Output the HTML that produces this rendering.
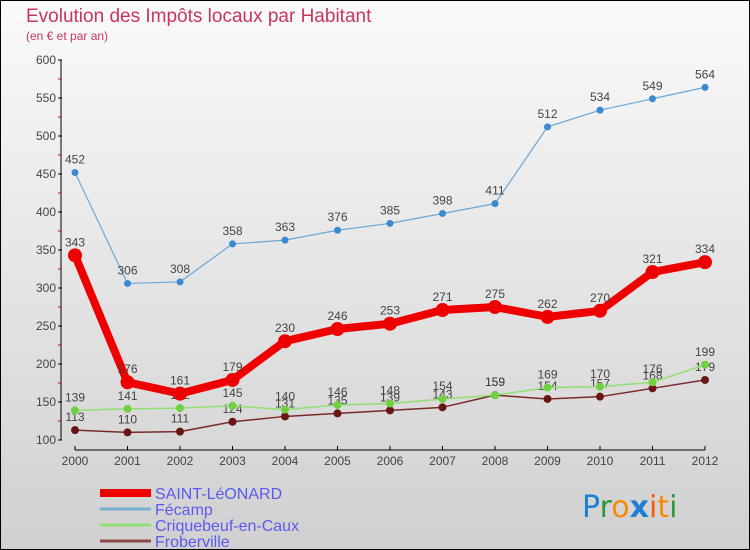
<!DOCTYPE html>
<html><head><meta charset="utf-8"><style>
body{margin:0;}
#c{width:750px;height:550px;position:relative;overflow:hidden;box-sizing:border-box;border:1px solid #000;background:linear-gradient(#fafafa,#d0d0d0);font-family:"Liberation Sans","DejaVu Sans",sans-serif;}
</style></head><body>
<div id="c">
<svg id="s" width="750" height="550" style="position:absolute;left:-1px;top:-1px">
<text x="26" y="22" font-size="19" fill="#c8365f">Evolution des Impôts locaux par Habitant</text>
<text x="26" y="40" font-size="12" fill="#c8365f">(en € et par an)</text>
<g font-size="30" font-family="'DejaVu Sans',sans-serif">
<text x="582" y="517"><tspan fill="#1b7fd8">P</tspan><tspan fill="#2a9a3a">r</tspan><tspan fill="#f58a0a">o</tspan><tspan fill="#1b7fd8" font-weight="bold">x</tspan><tspan fill="#f55a0a">i</tspan><tspan fill="#f58a0a">t</tspan><tspan fill="#2a9a3a">i</tspan></text>
</g>
</svg>
</div>
<script>
const years=[2000,2001,2002,2003,2004,2005,2006,2007,2008,2009,2010,2011,2012];
const saint=[343,176,161,179,230,246,253,271,275,262,270,321,334];
const fecamp=[452,306,308,358,363,376,385,398,411,512,534,549,564];
const criq=[139,141,142,145,140,146,148,154,159,169,170,176,199];
const frob=[113,110,111,124,131,135,139,143,159,154,157,168,179];
const yTicks=[100,150,200,250,300,350,400,450,500,550,600];
const NS='http://www.w3.org/2000/svg';
const s=document.getElementById('s');
const X=i=>75+i*52.5;
const Y=v=>440-(v-100)*0.76;
function el(t,a,p){const e=document.createElementNS(NS,t);for(const k in a)e.setAttribute(k,a[k]);(p||s).appendChild(e);return e;}
const ax=el('g',{});


el('line',{x1:61,y1:60,x2:61,y2:440,stroke:'#000','stroke-width':1},ax);
el('line',{x1:75,y1:450,x2:705,y2:450,stroke:'#000','stroke-width':1},ax);
yTicks.forEach((v,i)=>{
  el('line',{x1:58,y1:Y(v),x2:62,y2:Y(v),stroke:'#000'},ax);
  if(i<yTicks.length-1)el('line',{x1:58,y1:Y(v+25),x2:61,y2:Y(v+25),stroke:'#d00'},ax);
  const t=el('text',{x:56,y:Y(v)+4,'font-size':12,fill:'#444','text-anchor':'end'},ax);
  
  
  t.textContent=v;
});
years.forEach((y,i)=>{
  el('line',{x1:X(i),y1:446,x2:X(i),y2:450,stroke:'#000'},ax);
  const t=el('text',{x:X(i),y:465,'font-size':12,fill:'#444','text-anchor':'middle'},ax);
  
  
  t.textContent=y;
});
function series(vals,color,w,r,name,dotColor){
  const g=el('g',{});
  
  
  el('polyline',{points:vals.map((v,i)=>X(i)+','+Y(v)).join(' '),fill:'none',stroke:color,'stroke-width':w,'stroke-linejoin':'round'},g);
  vals.forEach((v,i)=>{
    const c=el('circle',{cx:X(i),cy:Y(v),r:r,fill:dotColor||color},g);
    
    
    const t=el('text',{x:X(i),y:Y(v)-9,'font-size':12,fill:'#444','text-anchor':'middle'},g);
    
    
    t.textContent=v;
  });
}
series(frob,'#7a2a2a',1.5,4,'froberville-series','#6a1515');
series(criq,'#90e070',1.5,4,'criquebeuf-series','#70d040');
series(fecamp,'#6aa8d8',1.2,3.5,'fecamp-series','#3a8ad0');
series(saint,'#ee0000',8,7,'saint-leonard-series');
const leg=[['SAINT-LéONARD','#ee0000',8],['Fécamp','#7ab0d0',3],['Criquebeuf-en-Caux','#90e070',3],['Froberville','#8a4a4a',3]];
leg.forEach((l,i)=>{
  const g=el('g',{});
  
  
  const y=493+i*16;
  el('line',{x1:100,y1:y,x2:151,y2:y,stroke:l[1],'stroke-width':l[2]},g);
  const t=el('text',{x:155,y:y+6,'font-size':16,fill:'#5a5af0'},g);
  t.textContent=l[0];
});
</script>
</body></html>
